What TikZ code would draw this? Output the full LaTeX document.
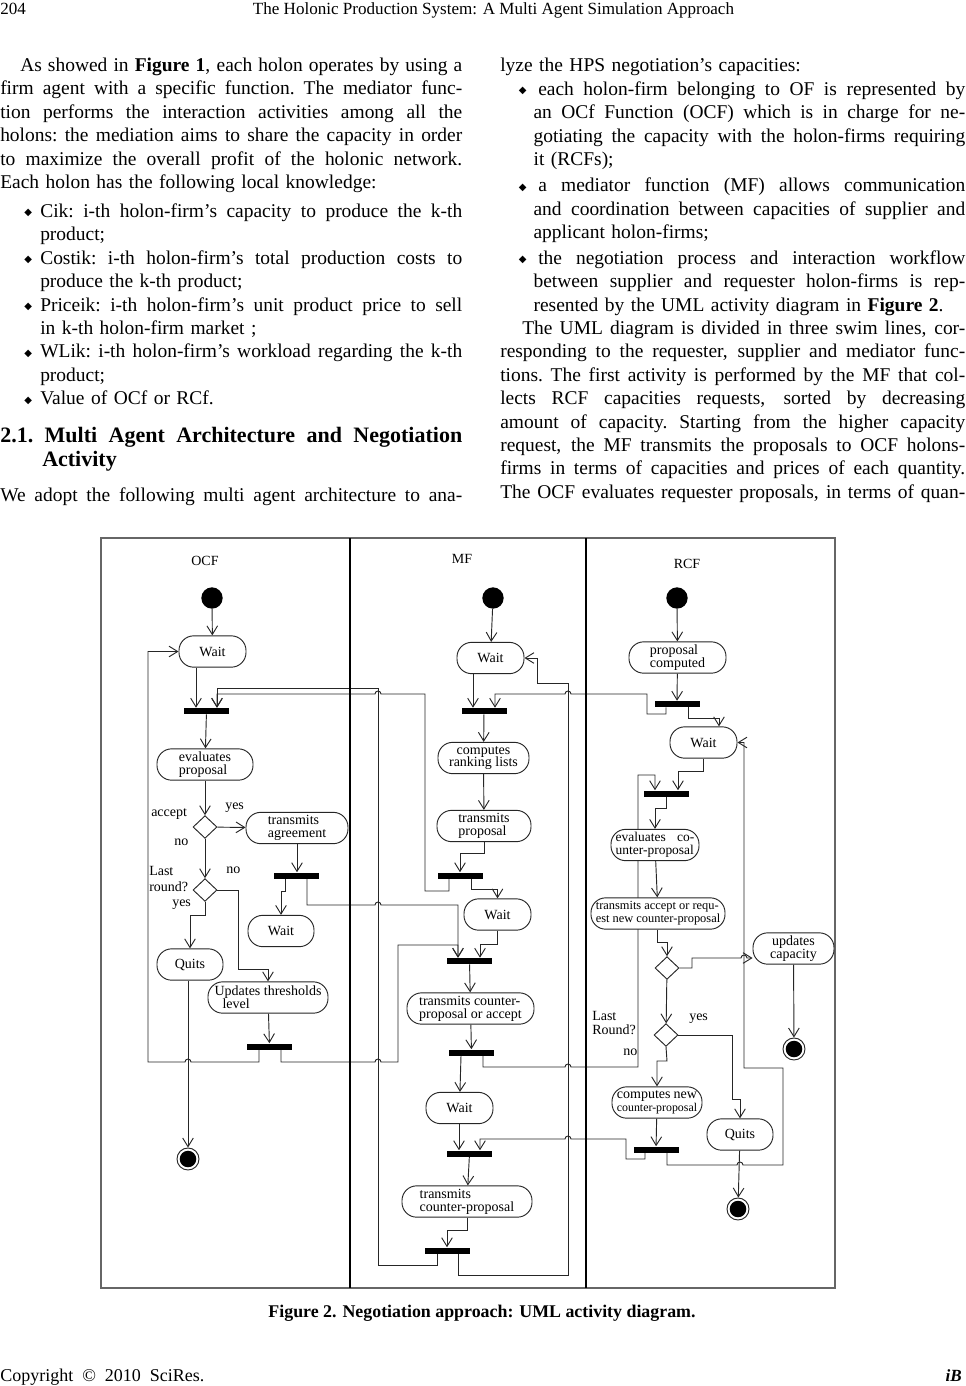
\documentclass[tikz,border=0pt]{standalone}
\usepackage{fontspec}
\setmainfont{Liberation Serif}
\newfontfamily\dvsans{DejaVu Sans}
\usetikzlibrary{arrows.meta,positioning,shapes.geometric,backgrounds}

\newlength\colw
\newcommand\txtfont{\fontsize{14.6}{17.55}\selectfont}
\newcommand\headfont{\fontsize{12.8}{15}\selectfont}
\newcommand\diagfont{\fontsize{10.5}{9.6}\selectfont}
\newcommand\bul{\raisebox{1.2pt}{\dvsans\fontsize{7.5}{7.5}\selectfont ◆}}
\newcommand\lb{\hspace*{18pt}\makebox[12pt][l]{\bul}}
\newcommand\rb{\hspace*{14pt}\makebox[14.5pt][l]{\bul}}
\newcommand\jl[1]{\hbox to \colw{\spaceskip=0.25em plus 2em minus 0.08em
  \xspaceskip=0.25em plus 2em minus 0.08em\relax #1}\par}
\newcommand\rl[1]{\hbox to \colw{#1\hss}\par}

\begin{document}
\begin{tikzpicture}[x=0.75pt,y=-0.75pt,
  txt/.style={anchor=base west,inner sep=0pt,font=\txtfont},
  activity/.style={draw=black!85,line width=0.7pt,fill=white,rounded corners=11pt,
    minimum height=23.5pt,minimum width=0.75pt*#1,inner sep=1.5pt,font=\diagfont,align=left},
  syncbar/.style={fill=black,inner sep=0pt,minimum width=33.75pt,minimum height=4.5pt},
  decision/.style={diamond,draw=black!85,line width=0.7pt,fill=white,inner sep=0pt,
    minimum width=18pt,minimum height=17pt},
  startnode/.style={circle,fill=black,inner sep=0pt,minimum size=16pt},
  endnode/.style={circle,draw=black!85,line width=0.7pt,fill=white,inner sep=0pt,minimum size=16.5pt,
    path picture={\fill[black] (path picture bounding box.center) circle (6.2pt);}},
  lbl/.style={inner sep=0pt,font=\diagfont,anchor=west,align=left},
  flow/.style={draw=black!85,line width=0.7pt,-{Straight Barb[length=6.5pt,width=8pt]}}]
\useasboundingbox (0,0) rectangle (965,1386);

% page text
\node[txt,font=\headfont] (pageno) at (0,14) {204};
\node[txt,anchor=base,font=\headfont] (runhead) at (493.5,14) {The Holonic Production System: A Multi Agent Simulation Approach};

\node[txt,text width=346.5pt] (lpara) at (0,71.4) {\setlength\colw{346.5pt}%
\jl{\hspace*{15pt}As showed in \textbf{Figure 1}, each holon operates by using a}
\jl{firm agent with a specific function. The mediator func-}
\jl{tion performs the interaction activities among all the}
\jl{holons: the mediation aims to share the capacity in order}
\jl{to maximize the overall profit of the holonic network.}
\rl{Each holon has the following local knowledge:}};
\node[txt,text width=346.5pt] (llist) at (0,217.4) {\setlength\colw{346.5pt}%
\jl{\lb Cik: i-th holon-firm’s capacity to produce the k-th}
\rl{\hspace*{30pt}product;}
\jl{\lb Costik: i-th holon-firm’s total production costs to}
\rl{\hspace*{30pt}produce the k-th product;}
\jl{\lb Priceik: i-th holon-firm’s unit product price to sell}
\rl{\hspace*{30pt}in k-th holon-firm market ;}
\jl{\lb WLik: i-th holon-firm’s workload regarding the k-th}
\rl{\hspace*{30pt}product;}
\rl{\lb Value of OCf or RCf.}};
\node[txt,text width=346.5pt,font=\fontsize{16.5}{18}\selectfont\bfseries] (lhead) at (0,442.5) {\setlength\colw{346.5pt}%
\jl{2.1. Multi Agent Architecture and Negotiation}
\rl{\hspace*{31.5pt}Activity}};
\node[txt,text width=346.5pt] (lpara2) at (0,501.4) {\setlength\colw{346.5pt}%
\jl{We adopt the following multi agent architecture to ana-}};

\node[txt,text width=348.75pt] (rline) at (500,71.4) {\setlength\colw{348.75pt}%
\rl{lyze the HPS negotiation’s capacities:}};
\node[txt,text width=348.75pt] (rlist) at (500,95.4) {\setlength\colw{348.75pt}%
\jl{\rb each holon-firm belonging to OF is represented by}
\jl{\hspace*{25pt}an OCf Function (OCF) which is in charge for ne-}
\jl{\hspace*{25pt}gotiating the capacity with the holon-firms requiring}
\rl{\hspace*{25pt}it (RCFs);}
\vspace{2pt}
\jl{\rb a mediator function (MF) allows communication}
\jl{\hspace*{25pt}and coordination between capacities of supplier and}
\rl{\hspace*{25pt}applicant holon-firms;}
\vspace{2pt}
\jl{\rb the negotiation process and interaction workflow}
\jl{\hspace*{25pt}between supplier and requester holon-firms is rep-}
\rl{\hspace*{25pt}resented by the UML activity diagram in \textbf{Figure 2}.}};
\node[txt,text width=348.75pt] (rpara) at (500,334.4) {\setlength\colw{348.75pt}%
\jl{\hspace*{16.5pt}The UML diagram is divided in three swim lines, cor-}
\jl{responding to the requester, supplier and mediator func-}
\jl{tions. The first activity is performed by the MF that col-}
\jl{lects RCF capacities requests, sorted by decreasing}
\jl{amount of capacity. Starting from the higher capacity}
\jl{request, the MF transmits the proposals to OCF holons-}
\jl{firms in terms of capacities and prices of each quantity.}
\jl{The OCF evaluates requester proposals, in terms of quan-}};

\node[txt,anchor=base,font=\fontsize{13.4}{15}\selectfont\bfseries] (caption) at (482,1317)
  {Figure 2. Negotiation approach: UML activity diagram.};
\node[txt,font=\fontsize{13.5}{15}\selectfont] (copyright) at (0,1381) {Copyright\ \ ©\ \ 2010\ \ SciRes.};
\node[txt,anchor=base east,font=\headfont\bfseries\itshape] (journal) at (962,1381) {iB};

% swim lanes
\draw[black!60,line width=1pt] (101,538) rectangle (835,1288);
\draw[line width=1.3pt] (350,538) -- (350,1288) (586,538) -- (586,1288);
\node[lbl,anchor=center] (ocflbl) at (205,561) {OCF};
\node[lbl,anchor=center] (mflbl) at (462,559) {MF};
\node[lbl,anchor=center] (rcflbl) at (687,564) {RCF};

% OCF lane
\node[startnode] (ostart) at (212,598) {};
\node[activity=67] (owait) at (212.5,651.5) {Wait};
\node[syncbar] (obar1) at (206.5,711) {};
\node[activity=96] (oeval) at (205,764.5) {evaluates\\proposal};
\node[decision] (odec1) at (205,827) {};
\node[activity=102] (oagree) at (297,828) {transmits\\agreement};
\node[syncbar] (obar2) at (296.5,875.5) {};
\node[activity=66] (owait2) at (281,931) {Wait};
\node[decision] (odec2) at (205,890) {};
\node[activity=66] (oquits) at (190,964.5) {Quits};
\node[activity=120] (oupd) at (268,997.5) {Updates thresholds\\\hspace*{6pt}level};
\node[syncbar] (obar3) at (269.5,1046.5) {};
\node[endnode] (oend) at (188,1159) {};
\node[lbl] (laccept) at (151,814) {accept};
\node[lbl] (lyes1) at (225,808) {yes};
\node[lbl] (lno1) at (174,842) {no};
\node[lbl,font=\fontsize{10.5}{12}\selectfont] (llast1) at (149,879) {Last\\round?};
\node[lbl] (lno2) at (226,870) {no};
\node[lbl] (lyes2) at (172,905) {yes};

% MF lane
\node[startnode] (mstart) at (493,598) {};
\node[activity=67] (mwait1) at (490.5,658) {Wait};
\node[syncbar] (mbar1) at (484,711) {};
\node[activity=91,align=center] (mrank) at (483.5,758) {computes\\ranking lists};
\node[activity=94] (mprop) at (484,826) {transmits\\proposal};
\node[syncbar] (mbar2) at (460,875.5) {};
\node[activity=67] (mwait2) at (497.5,914.5) {Wait};
\node[syncbar] (mbar3) at (469.5,961) {};
\node[activity=127] (mcounter) at (470.5,1008.5) {transmits counter-\\proposal or accept};
\node[syncbar] (mbar4) at (471.5,1052.5) {};
\node[activity=67] (mwait3) at (459.5,1108) {Wait};
\node[syncbar] (mbar5) at (469.5,1153.5) {};
\node[activity=130] (mtrans) at (467,1201.5) {transmits\\counter-proposal};
\node[syncbar] (mbar6) at (447,1250.5) {};

% RCF lane
\node[startnode] (rstart) at (677,598) {};
\node[activity=97] (rprop) at (677.5,657.5) {proposal\\computed};
\node[syncbar] (rbar1) at (677,704) {};
\node[activity=67] (rwait) at (703.5,742.5) {Wait};
\node[syncbar] (rbar2) at (666.5,793.5) {};
\node[activity=88,font=\fontsize{10.1}{9.6}\selectfont] (reval) at (655,845) {\makebox[59pt][s]{evaluates co-}\\unter-proposal};
\node[activity=134,font=\fontsize{9.3}{9.6}\selectfont] (racc) at (658,913.5) {transmits accept or requ-\\est new counter-proposal};
\node[decision] (rdec1) at (667,968) {};
\node[activity=81,align=center] (rupd) at (793.5,948.5) {updates\\capacity};
\node[endnode] (rend1) at (794,1049) {};
\node[decision] (rdec2) at (666,1035) {};
\node[activity=90] (rnew) at (657,1102.5) {\makebox[60pt][s]{computes new}\\{\fontsize{8.9}{9.6}\selectfont counter-proposal}};
\node[syncbar] (rbar3) at (656,1149.5) {};
\node[activity=66] (rquits) at (740,1134.5) {Quits};
\node[endnode] (rend2) at (738,1209) {};
\node[lbl,font=\fontsize{10.5}{10.5}\selectfont] (llast2) at (592,1023) {Last\\Round?};
\node[lbl] (lyes3) at (689,1019) {yes};
\node[lbl] (lno3) at (623,1052) {no};

\begin{scope}[on background layer]
% OCF flows
\draw[flow] (ostart) -- (owait);
\draw[flow] (owait.south -| 196,0) -- (obar1.north -| 196,0);
\draw[flow] (obar1) -- (oeval);
\draw[flow] (oeval) -- (odec1);
\draw[flow] (odec1) -- (oagree);
\draw[flow] (oagree.south -| 297,0) -- (obar2.north -| 297,0);
\draw[flow] (obar2.south -| 285,0) -- (285,891) -| (owait2);
\draw[flow] (obar2.south -| 307,0) -- (307,905) -- (375,905) arc[start angle=180,end angle=360,radius=3]
  -- (458,905) -- (mbar3.north -| 458,0);
\draw[flow] (odec1) -- (odec2);
\draw[flow] (odec2.east) -- (238,890) -- (238,969) -| (oupd);
\draw[flow] (odec2.south) -- (205,915) -| (oquits);
\draw[flow] (oquits.south -| 188,0) -- (oend);
\draw[flow] (oupd) -- (obar3);
\draw[flow] (obar3.south -| 259,0) -- (259,1062) -- (191,1062) arc[start angle=0,end angle=-180,radius=3]
  -- (148,1062) -- (148,651.5) -- (owait.west);
\draw[flow] (obar3.south -| 281,0) -- (281,1062) -- (375,1062) arc[start angle=180,end angle=360,radius=3]
  -- (398,1062) -- (398,945) -- (458,945) -- (mbar3.north -| 458,0);
% MF flows
\draw[flow] (mstart) -- (mwait1);
\draw[flow] (mwait1.south -| 473,0) -- (mbar1.north -| 473,0);
\draw[flow] (mbar1) -- (mrank);
\draw[flow] (mrank) -- (mprop);
\draw[flow] (mprop.south) -- (484,853) -| (mbar2);
\draw[flow] (mbar2.south -| 449,0) -- (449,891) -- (425,891) -- (425,694) -- (381,694)
  arc[start angle=0,end angle=-180,radius=3] -- (217,694) -- (obar1.north -| 217,0);
\draw[flow] (mbar2.south -| 471,0) -- (471,889) -| (mwait2);
\draw[flow] (mwait2.south) -- (497.5,944) -- (480,944) -- (mbar3.north -| 480,0);
\draw[flow] (mbar3) -- (mcounter);
\draw[flow] (mcounter) -- (mbar4);
\draw[flow] (mbar4.south -| 461,0) -- (mwait3);
\draw[flow] (mbar4.south -| 483,0) -- (483,1067) -- (565,1067) arc[start angle=180,end angle=360,radius=3]
  -- (638,1067) -- (638,775) -- (655,775) -- (rbar2.north -| 655,0);
\draw[flow] (mwait3.south -| 459,0) -- (mbar5.north -| 459,0);
\draw[flow] (mbar5) -- (mtrans);
\draw[flow] (mtrans.south) -- (467,1230) -| (mbar6);
\draw[flow] (mbar6.south -| 437,0) -- (437,1265) -- (378,1265) -- (378,688) -- (217,688) -- (obar1.north -| 217,0);
\draw[flow] (mbar6.south -| 458,0) -- (458,1275) -- (568,1275) -- (568,683) -- (537,683) -- (537,658) -- (mwait1.east);
% RCF flows
\draw[flow] (rstart) -- (rprop);
\draw[flow] (rprop) -- (rbar1);
\draw[flow] (rbar1.south -| 666,0) -- (666,714) -- (647,714) -- (647,694) -- (571,694)
  arc[start angle=0,end angle=-180,radius=3] -- (495,694) -- (mbar1.north -| 495,0);
\draw[flow] (rbar1.south -| 688,0) -- (688,718) -- (719,718) -- (rwait.north -| 719,0);
\draw[flow] (rwait.south) -- (703.5,771) -- (678,771) -- (rbar2.north -| 678,0);
\draw[flow] (rbar2.south) -- (666.5,808) -| (reval);
\draw[flow] (reval) -- (racc);
\draw[flow] (racc.south -| 657,0) -- (657,942) -| (rdec1);
\draw[flow] (rdec1.east) -- (692,968) -- (692,958) -- (741,958) arc[start angle=180,end angle=360,radius=3]
  -- (rupd.west |- 0,958);
\draw[flow] (rupd) -- (rend1);
\draw[flow] (rdec1) -- (rdec2);
\draw[flow] (rdec2.east) -- (732,1035) -- (732,1099) -| (rquits);
\draw[flow] (rdec2.south) -- (667,1061) -| (rnew);
\draw[flow] (rnew) -- (rbar3);
\draw[flow] (rbar3.south -| 645,0) -- (645,1159) -- (626,1159) -- (626,1139) -- (571,1139)
  arc[start angle=0,end angle=-180,radius=3] -- (480,1139) -- (mbar5.north -| 480,0);
\draw[flow] (rbar3.south -| 667,0) -- (667,1165) -- (737,1165) arc[start angle=180,end angle=360,radius=3]
  -- (783,1165) -- (783,1068) -- (744,1068) -- (744,742.5) -- (rwait.east);
\draw[flow] (rquits) -- (rend2);
\end{scope}
\end{tikzpicture}
\end{document}
